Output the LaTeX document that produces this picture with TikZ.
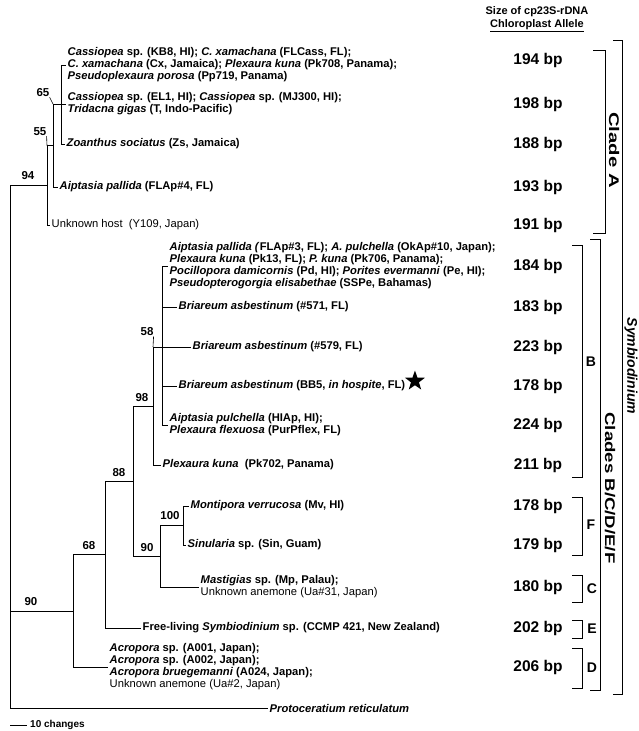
\documentclass[tikz,border=0pt]{standalone}
\usepackage{fontspec}
\usepackage{graphicx}
\setmainfont{Liberation Sans}
\usetikzlibrary{shapes.geometric,positioning}
\newcommand{\spname}[1]{\textit{#1}}

\begin{document}
\begin{tikzpicture}[
    x=1pt, y=-1pt,
    branch/.style={line width=0.8pt},
    tick/.style={line width=0.6pt},
    bracket/.style={line width=0.9pt},
    taxon/.style={anchor=west, align=left, inner xsep=1.5pt, inner ysep=0pt, font=\fontsize{11.2}{12}\selectfont\bfseries},
    plaintaxon/.style={taxon, font=\fontsize{11.2}{12}\selectfont},
    boot/.style={inner sep=0pt, font=\fontsize{11.5}{13}\selectfont\bfseries},
    allele/.style={inner sep=0pt, font=\fontsize{15.5}{17}\selectfont\bfseries},
    cladeletter/.style={inner sep=0pt, font=\fontsize{14}{16}\selectfont\bfseries},
    groupname/.style={inner sep=0pt, rotate=-90, font=\fontsize{14}{16}\selectfont\bfseries}
]
\useasboundingbox (0,0) rectangle (638,731);

% Header
\node[align=center, font=\fontsize{11}{12.5}\selectfont\bfseries] (head) at (537,19) {Size of cp23S-rDNA\\\underline{Chloroplast Allele}};

% Clade A taxa
\node[taxon] (cas1) at (66,65) {\spname{Cassiopea} sp. (KB8, HI); \spname{C. xamachana} (FLCass, FL);\\\spname{C. xamachana} (Cx, Jamaica); \spname{Plexaura kuna} (Pk708, Panama);\\\spname{Pseudoplexaura porosa} (Pp719, Panama)};
\node[taxon] (cas2) at (66,104) {\spname{Cassiopea} sp. (EL1, HI); \spname{Cassiopea} sp. (MJ300, HI);\\\spname{Tridacna gigas} (T, Indo-Pacific)};
\node[taxon] (zoan) at (65,144) {\spname{Zoanthus sociatus} (Zs, Jamaica)};
\node[taxon] (aip4) at (58,187) {\spname{Aiptasia pallida} (FLAp\#4, FL)};
\node[plaintaxon] (unk) at (50,225) {Unknown host\ \ (Y109, Japan)};

% Clade B taxa
\node[taxon] (grpB) at (168,266) {\spname{Aiptasia pallida (}FLAp\#3, FL); \spname{A. pulchella} (OkAp\#10, Japan);\\\spname{Plexaura kuna} (Pk13, FL); \spname{P. kuna} (Pk706, Panama);\\\spname{Pocillopora damicornis} (Pd, HI); \spname{Porites evermanni} (Pe, HI);\\\spname{Pseudopterogorgia elisabethae} (SSPe, Bahamas)};
\node[taxon] (ba571) at (177,307) {\spname{Briareum asbestinum} (\#571, FL)};
\node[taxon] (ba579) at (191,347) {\spname{Briareum asbestinum} (\#579, FL)};
\node[taxon] (bb5) at (177,386) {\spname{Briareum asbestinum} (BB5, \spname{in hospite}, FL)};
\node[star, star points=5, star point ratio=2.5, fill=black, inner sep=0pt, minimum size=21pt, right=2pt of bb5, yshift=5pt] (bbstar) {};
\node[taxon] (apul) at (168,425) {\spname{Aiptasia pulchella} (HIAp, HI);\\\spname{Plexaura flexuosa} (PurPflex, FL)};
\node[taxon] (pk702) at (161,465) {\spname{Plexaura kuna}\ \ (Pk702, Panama)};

% Clades F, C, E, D taxa
\node[taxon] (mont) at (189,506) {\spname{Montipora verrucosa} (Mv, HI)};
\node[taxon] (sinu) at (186,545) {\spname{Sinularia} sp. (Sin, Guam)};
\node[taxon] (mast) at (199,587) {\spname{Mastigias} sp. (Mp, Palau);\\\mdseries Unknown anemone (Ua\#31, Japan)};
\node[taxon] (free) at (141,628) {Free-living \spname{Symbiodinium} sp. (CCMP 421, New Zealand)};
\node[taxon] (acro) at (108,667) {\spname{Acropora} sp. (A001, Japan);\\\spname{Acropora} sp. (A002, Japan);\\\spname{Acropora bruegemanni} (A024, Japan);\\\mdseries Unknown anemone (Ua\#2, Japan)};
\node[taxon] (proto) at (268,708) {\spname{Protoceratium reticulatum}};

% Internal nodes
\coordinate (root) at (10,446);
\coordinate (n94) at (47,185);
\coordinate (n55) at (53,145.5);
\coordinate (n65) at (61,104);
\coordinate (n90a) at (73,611);
\coordinate (n68) at (105,554.5);
\coordinate (n88) at (133,481);
\coordinate (n98) at (153,406);
\coordinate (n58) at (162,347);
\coordinate (n90b) at (160,556);
\coordinate (n100) at (183,525.5);

% Branches - Clade A
\draw[branch] (n65) |- (cas1.west);
\draw[branch] (n65) -- (cas2.west);
\draw[branch] (n65) |- (zoan.west);
\draw[branch] (n55) |- (n65);
\draw[branch] (n55) |- (aip4.west);
\draw[branch] (n94) |- (n55);
\draw[branch] (n94) |- (unk.west);

% Branches - root
\draw[branch] (root) |- (n94);
\draw[branch] (root) |- (n90a);
\draw[branch] (root) |- (proto.west);

% Branches - Clades B to F
\draw[branch] (n90a) |- (n68);
\draw[branch] (n90a) |- (acro.west);
\draw[branch] (n68) |- (n88);
\draw[branch] (n68) |- (free.west);
\draw[branch] (n88) |- (n98);
\draw[branch] (n88) |- (n90b);
\draw[branch] (n98) |- (n58);
\draw[branch] (n98) |- (pk702.west);
\draw[branch] (n58) |- (grpB.west);
\draw[branch] (n58) |- (ba571.west);
\draw[branch] (n58) -- (ba579.west);
\draw[branch] (n58) |- (bb5.west);
\draw[branch] (n58) |- (apul.west);
\draw[branch] (n90b) |- (n100);
\draw[branch] (n90b) |- (mast.west);
\draw[branch] (n100) |- (mont.west);
\draw[branch] (n100) |- (sinu.west);

% Bootstrap values
\node[boot] (s94) at (28,176) {94};
\node[boot] (s55) at (40,132) {55};
\node[boot] (s65) at (43,93) {65};
\node[boot] (s58) at (147,332) {58};
\node[boot] (s98) at (142,398) {98};
\node[boot] (s88) at (119,473) {88};
\node[boot] (s100) at (170,516) {100};
\node[boot] (s90b) at (147,548) {90};
\node[boot] (s68) at (89,546) {68};
\node[boot] (s90a) at (31,602) {90};
\coordinate (j65) at (n55 |- n65);
\coordinate (j55) at (n94 |- n55);
\coordinate (j58) at (n98 |- n58);
\draw[tick] (s65.south east) -- (j65);
\draw[tick] (s55.south east) -- (j55);
\draw[tick] (s58.south east) -- (j58);

% Allele sizes
\node[allele] (bp1) at (538,60) {194 bp};
\node[allele] (bp2) at (538,104) {198 bp};
\node[allele] (bp3) at (538,144) {188 bp};
\node[allele] (bp4) at (538,187) {193 bp};
\node[allele] (bp5) at (538,225) {191 bp};
\node[allele] (bp6) at (538,266) {184 bp};
\node[allele] (bp7) at (538,307) {183 bp};
\node[allele] (bp8) at (538,347) {223 bp};
\node[allele] (bp9) at (538,386) {178 bp};
\node[allele] (bp10) at (538,425) {224 bp};
\node[allele] (bp11) at (538,465) {211 bp};
\node[allele] (bp12) at (538,506) {178 bp};
\node[allele] (bp13) at (538,545) {179 bp};
\node[allele] (bp14) at (538,587) {180 bp};
\node[allele] (bp15) at (538,628) {202 bp};
\node[allele] (bp16) at (538,667) {206 bp};

% Clade brackets
\draw[bracket] (572,245) -| (582,477) -- (572,477);
\draw[bracket] (572,497) -| (582,555) -- (572,555);
\draw[bracket] (572,575) -| (582,602) -- (572,602);
\draw[bracket] (572,620) -| (582,638) -- (572,638);
\draw[bracket] (572,648) -| (582,688) -- (572,688);
\node[cladeletter] (cB) at (591,362) {B};
\node[cladeletter] (cF) at (591,525) {F};
\node[cladeletter] (cC) at (592,589) {C};
\node[cladeletter] (cE) at (592,629) {E};
\node[cladeletter] (cD) at (592,668) {D};

% Clade A and B/C/D/E/F
\draw[bracket] (593,50) -| (605,233) -- (593,233);
\draw[bracket] (590,239) -| (600,690) -- (590,690);
\node[groupname] (gA) at (614,150) {\scalebox{1.45}[1]{Clade A}};
\node[groupname] (gBF) at (610,488) {\scalebox{1.33}[1]{Clades B/C/D/E/F}};

% Genus
\draw[bracket] (613,40) -| (622,694) -- (613,694);
\node[groupname, font=\fontsize{14}{16}\selectfont\bfseries\itshape] (gen) at (631,366) {Symbiodinium};

% Scale bar
\node[anchor=west, inner sep=0pt, font=\fontsize{10}{11}\selectfont\bfseries] (scale) at (30,725) {10 changes};
\coordinate (sbar) at (10,725);
\draw[branch] (sbar) -- ([xshift=-3pt]scale.west);

\end{tikzpicture}
\end{document}
